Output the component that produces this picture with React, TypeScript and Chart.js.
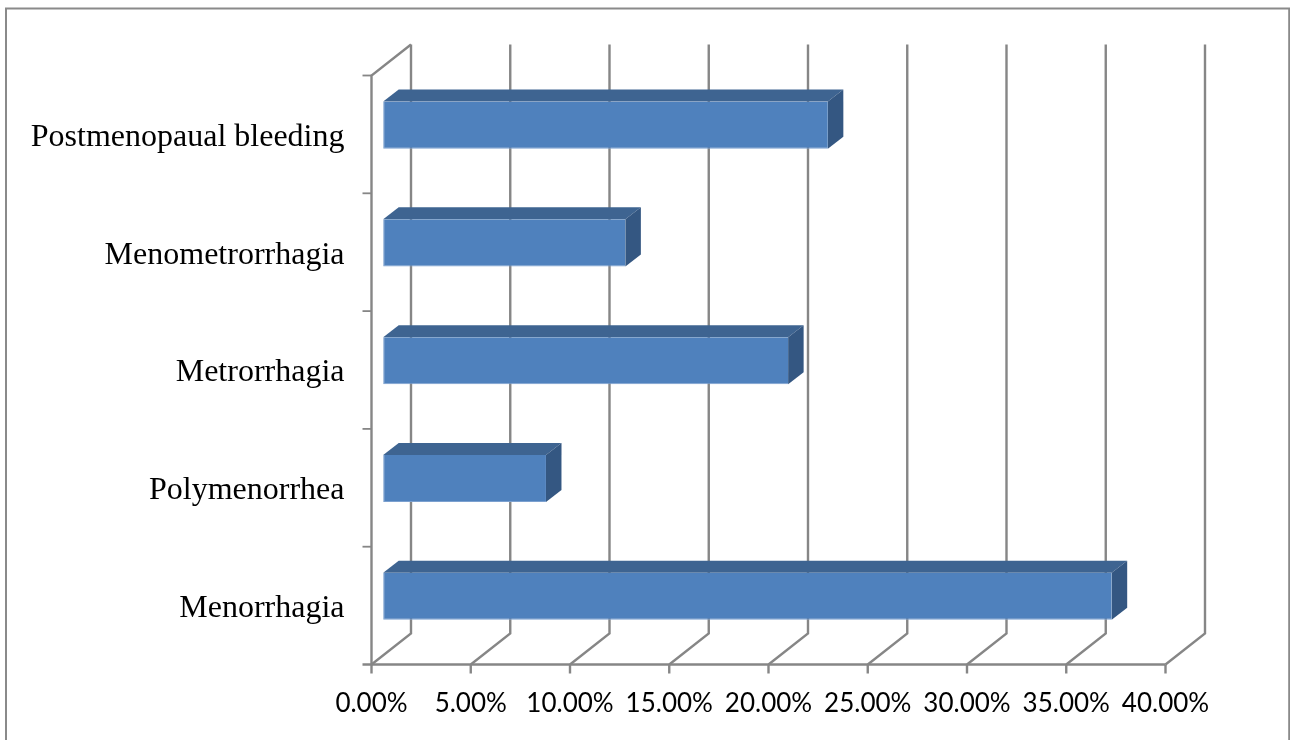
import { useEffect, useRef } from "react";
import { Chart, registerables } from "chart.js";

Chart.register(...registerables);

// Values are percentages of cases; categories run top to bottom.
const categories = [
  "Postmenopaual bleeding",
  "Menometrorrhagia",
  "Metrorrhagia",
  "Polymenorrhea",
  "Menorrhagia",
];
const shares = [22.4, 12.2, 20.4, 8.2, 36.7];

// Fake 3D projection, in pixels.
const WALL_DX = 39.5;
const WALL_DY = -31;
const BAR_DX = 11.7;
const BAR_DY = -9.3;
const FACE_DX = 15.5;
const FACE_DY = -12;
const TICK = 9;

const AXIS_COLOR = "#868686";
const FRONT_COLOR = "#4F81BD";
const EDGE_COLOR = "#7BA0CF";
const TOP_COLOR = "#3E6491";
const SIDE_COLOR = "#345782";

function polygon(ctx: CanvasRenderingContext2D, pts: number[][], fill: string) {
  ctx.beginPath();
  pts.forEach(([x, y], i) => (i ? ctx.lineTo(x, y) : ctx.moveTo(x, y)));
  ctx.closePath();
  ctx.fillStyle = fill;
  ctx.fill();
}

const framePlugin = {
  id: "frame",
  beforeDraw(chart: any) {
    const { ctx } = chart;
    ctx.save();
    ctx.fillStyle = "#fff";
    ctx.fillRect(0, 0, chart.width, chart.height);
    ctx.strokeStyle = "#8a8a8a";
    ctx.lineWidth = 2;
    ctx.beginPath();
    ctx.moveTo(6, chart.height);
    ctx.lineTo(6, 8.6);
    ctx.lineTo(1289.2, 8.6);
    ctx.lineTo(1289.2, chart.height);
    ctx.stroke();
    ctx.restore();
  },
};

// Walls, floor lines and ticks of the 3D box, taken from the scales.
const boxPlugin = {
  id: "box",
  beforeDatasetsDraw(chart: any) {
    const { ctx, chartArea, scales } = chart;
    const { left, right, top, bottom } = chartArea;
    ctx.save();
    ctx.strokeStyle = AXIS_COLOR;
    ctx.lineWidth = 2.4;
    ctx.lineJoin = "miter";

    scales.x.ticks.forEach((t: any) => {
      const x = scales.x.getPixelForValue(t.value);
      ctx.beginPath();
      ctx.moveTo(x, bottom + TICK);
      ctx.lineTo(x, bottom);
      ctx.stroke();
      ctx.beginPath();
      ctx.moveTo(x, bottom);
      ctx.lineTo(x + WALL_DX, bottom + WALL_DY);
      ctx.lineTo(x + WALL_DX, top + WALL_DY);
      ctx.stroke();
    });

    ctx.beginPath();
    ctx.moveTo(left - TICK, bottom);
    ctx.lineTo(right, bottom);
    ctx.moveTo(left, bottom);
    ctx.lineTo(left, top);
    ctx.lineTo(left + WALL_DX, top + WALL_DY);
    ctx.stroke();

    const band = (bottom - top) / categories.length;
    ctx.lineWidth = 1.8;
    for (let i = 0; i < categories.length; i++) {
      const y = top + i * band;
      ctx.beginPath();
      ctx.moveTo(left - TICK, y);
      ctx.lineTo(left, y);
      ctx.stroke();
    }
    ctx.restore();
  },
};

// Shifts the bars to mid-depth and adds their top and end faces.
const barDepthPlugin = {
  id: "barDepth",
  beforeDatasetsDraw(chart: any) {
    const { ctx } = chart;
    ctx.save();
    ctx.translate(BAR_DX, BAR_DY);
    chart.getDatasetMeta(0).data.forEach((bar: any) => {
      const { x, y, base, height } = bar.getProps(["x", "y", "base", "height"], true);
      const t = y - height / 2;
      const b = y + height / 2;
      polygon(ctx, [[base, t], [x, t], [x + FACE_DX, t + FACE_DY], [base + FACE_DX, t + FACE_DY]], TOP_COLOR);
      polygon(ctx, [[x, t], [x + FACE_DX, t + FACE_DY], [x + FACE_DX, b + FACE_DY], [x, b]], SIDE_COLOR);
    });
  },
  afterDatasetsDraw(chart: any) {
    chart.ctx.restore();
  },
};

export default function App() {
  const ref = useRef<HTMLCanvasElement>(null);

  useEffect(() => {
    if (!ref.current) return;
    const chart = new Chart(ref.current, {
      type: "bar",
      data: {
        labels: categories,
        datasets: [
          {
            data: shares,
            backgroundColor: FRONT_COLOR,
            borderColor: EDGE_COLOR,
            borderWidth: { left: 1, bottom: 1, top: 0, right: 0 },
            borderSkipped: false,
            categoryPercentage: 1,
            barPercentage: 0.4,
            clip: false as any,
          },
        ],
      },
      plugins: [framePlugin, boxPlugin, barDepthPlugin],
      options: {
        indexAxis: "y",
        responsive: false,
        animation: false,
        layout: { padding: { left: 0, right: 124.5, top: 75.5, bottom: 0 } },
        plugins: { legend: { display: false }, tooltip: { enabled: false } },
        scales: {
          x: {
            min: 0,
            max: 40,
            border: { display: false },
            grid: { display: false, drawTicks: false },
            afterFit(scale: any) {
              scale.height = 75.5;
            },
            ticks: {
              stepSize: 5,
              autoSkip: false,
              maxRotation: 0,
              padding: 24,
              color: "#000",
              font: { family: "Lato", size: 26 },
              callback: (v: any) => Number(v).toFixed(2) + "%",
            },
          },
          y: {
            border: { display: false },
            grid: { display: false, drawTicks: false },
            afterFit(scale: any) {
              scale.width = 371.5;
            },
            ticks: {
              autoSkip: false,
              padding: 27,
              labelOffset: 3,
              color: "#000",
              font: { family: "Liberation Serif", size: 32 },
            },
          },
        },
      },
    });
    return () => chart.destroy();
  }, []);

  return (
    <div style={{ position: "fixed", left: 0, top: 0, width: 1290, height: 740, overflow: "hidden", background: "#fff" }}>
      <canvas ref={ref} width={1290} height={740} style={{ display: "block" }} />
    </div>
  );
}
